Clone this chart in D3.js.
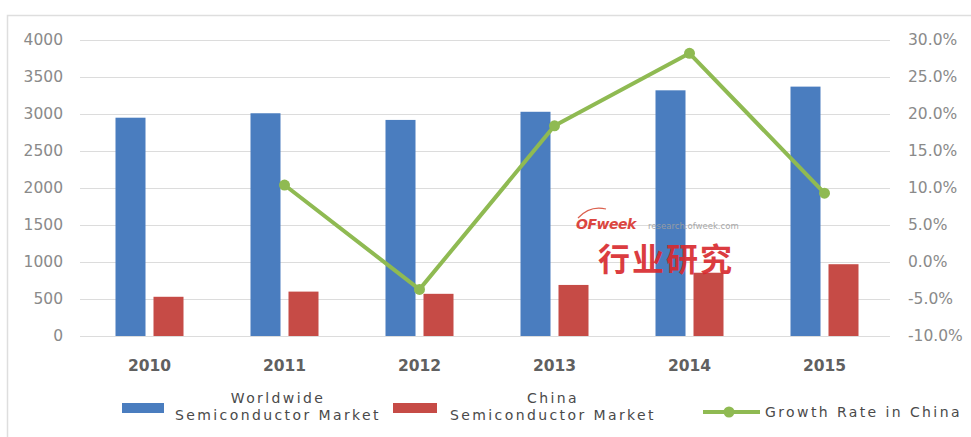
<!DOCTYPE html>
<html>
<head>
<meta charset="utf-8">
<script src="https://cdn.jsdelivr.net/npm/d3@7"></script>
<style>
  html, body { margin: 0; padding: 0; background: #fff; }
  svg { display: block; }
</style>
</head>
<body>
<svg id="chart" width="971" height="437"></svg>
<script>
// Semiconductor market size (left axis) and China growth rate (right axis)
const years = ["2010", "2011", "2012", "2013", "2014", "2015"];
const worldwide = [2950, 3010, 2920, 3030, 3320, 3370];
const china = [530, 600, 570, 690, 855, 970];
const growthYears = ["2011", "2012", "2013", "2014", "2015"];
const growthRate = [10.4, -3.7, 18.4, 28.2, 9.3];
const leftTicks = [0, 500, 1000, 1500, 2000, 2500, 3000, 3500, 4000];
const rightTicks = [-10, -5, 0, 5, 10, 15, 20, 25, 30];
const seriesNames = ["Worldwide Semiconductor Market", "China Semiconductor Market", "Growth Rate in China"];

const colors = { worldwide: "#4a7dbf", china: "#c64b46", growth: "#8fba52" };

const svg = d3.select("#chart");
const plot = { left: 82, right: 892, top: 40, bottom: 336 };

// outer frame of the chart area
svg.append("rect")
  .attr("x", 7.5).attr("y", 15.5)
  .attr("width", 1000).attr("height", 500)
  .attr("fill", "none").attr("stroke", "#dedede").attr("stroke-width", 1.5);

const x0 = d3.scaleBand().domain(years).range([plot.left, plot.right]);
const x1 = d3.scaleBand().domain(["w", "c"]).range([-34, 34]).paddingInner(0.2105);
const yL = d3.scaleLinear().domain([0, 4000]).range([plot.bottom, plot.top]);
const yR = d3.scaleLinear().domain([-10, 30]).range([plot.bottom, plot.top]);

// gridlines
svg.append("g")
  .attr("transform", `translate(${plot.left - 2},0)`)
  .call(d3.axisLeft(yL).tickValues(leftTicks).tickSize(-(plot.right - plot.left)).tickFormat(""))
  .call(g => g.select(".domain").remove())
  .call(g => g.selectAll("line").attr("stroke", "#dcdcdc").attr("stroke-width", 1.2));

// left axis labels
svg.append("g")
  .attr("transform", `translate(${plot.left - 19},0)`)
  .call(d3.axisLeft(yL).tickValues(leftTicks).tickSize(0).tickPadding(0).tickFormat(d3.format("d")))
  .call(g => g.select(".domain").remove())
  .call(g => g.selectAll("text")
    .attr("font-family", "DejaVu Sans").attr("font-size", 15.5).attr("fill", "#8a8a8a"));

// right axis labels
svg.append("g")
  .attr("transform", `translate(${plot.right + 16},0)`)
  .call(d3.axisRight(yR).tickValues(rightTicks).tickSize(0).tickPadding(0).tickFormat(d => d.toFixed(1) + "%"))
  .call(g => g.select(".domain").remove())
  .call(g => g.selectAll("text")
    .attr("font-family", "DejaVu Sans").attr("font-size", 15.5).attr("fill", "#8a8a8a"));

// category labels
svg.append("g")
  .attr("transform", `translate(0,${plot.bottom + 24})`)
  .call(d3.axisBottom(x0).tickSize(0).tickPadding(0))
  .call(g => g.select(".domain").remove())
  .call(g => g.selectAll("text")
    .attr("font-family", "DejaVu Sans").attr("font-size", 15.5).attr("font-weight", "bold")
    .attr("fill", "#606060"));

// bars
const groups = svg.append("g").selectAll("g")
  .data(years)
  .join("g")
  .attr("transform", d => `translate(${x0(d) + x0.bandwidth() / 2},0)`);

groups.append("rect")
  .attr("x", x1("w")).attr("width", x1.bandwidth())
  .attr("y", (d, i) => yL(worldwide[i]))
  .attr("height", (d, i) => yL(0) - yL(worldwide[i]))
  .attr("fill", colors.worldwide);

groups.append("rect")
  .attr("x", x1("c")).attr("width", x1.bandwidth())
  .attr("y", (d, i) => yL(china[i]))
  .attr("height", (d, i) => yL(0) - yL(china[i]))
  .attr("fill", colors.china);

// watermark
const wm = svg.append("g").attr("opacity", 0.9);
wm.append("path")
  .attr("d", "M578,218 Q590,205 606,209")
  .attr("fill", "none").attr("stroke", "#d8503c").attr("stroke-width", 1.2);
wm.append("text")
  .attr("x", 576).attr("y", 229)
  .attr("font-family", "DejaVu Sans").attr("font-size", 14).attr("font-weight", "bold")
  .attr("font-style", "italic").attr("fill", "#d9322c").attr("letter-spacing", -0.5)
  .text("OFweek");
wm.append("text")
  .attr("x", 648).attr("y", 229)
  .attr("font-family", "DejaVu Sans").attr("font-size", 8.5).attr("fill", "#a0a0a0")
  .text("research.ofweek.com");
wm.append("text")
  .attr("x", 598).attr("y", 271)
  .attr("font-family", "Noto Sans CJK SC").attr("font-size", 32).attr("font-weight", "bold")
  .attr("fill", "#d8282c").attr("letter-spacing", 2)
  .text("行业研究");

// growth line on right axis
const lineX = d => x0(d) + x0.bandwidth() / 2;
const line = d3.line()
  .x((d, i) => lineX(growthYears[i]))
  .y(d => yR(d));

svg.append("path")
  .datum(growthRate)
  .attr("d", line)
  .attr("fill", "none")
  .attr("stroke", colors.growth)
  .attr("stroke-width", 4)
  .attr("stroke-linejoin", "round");

svg.append("g").selectAll("circle")
  .data(growthRate)
  .join("circle")
  .attr("cx", (d, i) => lineX(growthYears[i]))
  .attr("cy", d => yR(d))
  .attr("r", 5.5)
  .attr("fill", colors.growth);

// legend
const legend = svg.append("g")
  .attr("font-family", "DejaVu Sans").attr("font-size", 14)
  .attr("fill", "#4a4a4a").attr("letter-spacing", 2.4);

legend.append("rect").attr("x", 122).attr("y", 403).attr("width", 42).attr("height", 10).attr("fill", colors.worldwide);
const t1 = legend.append("text").attr("text-anchor", "middle");
t1.append("tspan").attr("x", 278).attr("y", 403).text("Worldwide");
t1.append("tspan").attr("x", 278).attr("y", 420).text("Semiconductor  Market");

legend.append("rect").attr("x", 393).attr("y", 403).attr("width", 44).attr("height", 10).attr("fill", colors.china);
const t2 = legend.append("text").attr("text-anchor", "middle");
t2.append("tspan").attr("x", 553).attr("y", 403).text("China");
t2.append("tspan").attr("x", 553).attr("y", 420).text("Semiconductor  Market");

legend.append("line").attr("x1", 703).attr("x2", 760).attr("y1", 412).attr("y2", 412)
  .attr("stroke", colors.growth).attr("stroke-width", 4);
legend.append("circle").attr("cx", 729).attr("cy", 412).attr("r", 5.5).attr("fill", colors.growth);
legend.append("text").attr("x", 765).attr("y", 417).text(seriesNames[2].replace(/ /g, "  "));
</script>
</body>
</html>
